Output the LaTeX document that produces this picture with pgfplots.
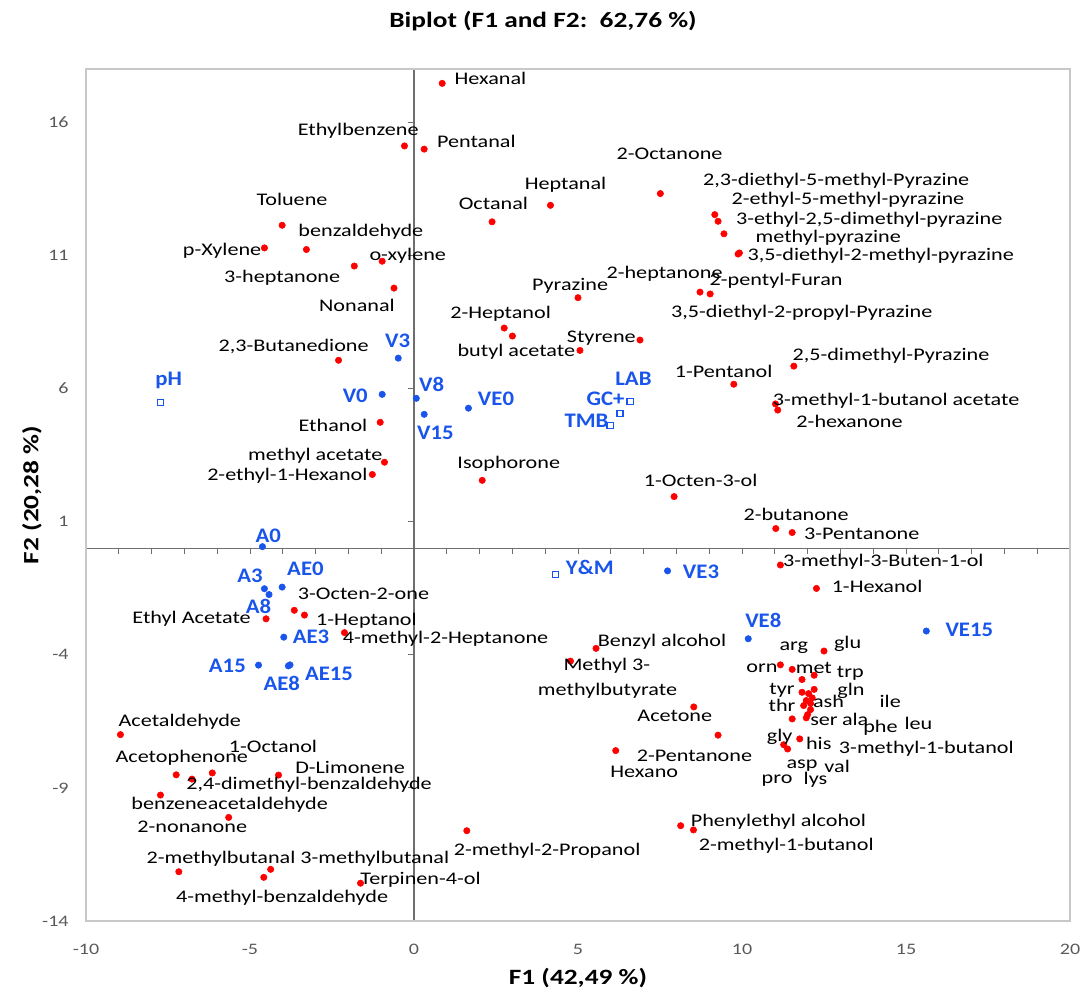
\documentclass[border=0pt]{standalone}
\usepackage{fontspec}
\setmainfont{Carlito}
\newfontfamily\lblfont[FakeStretch=1.25]{Carlito}
\newfontfamily\bluefont[FakeStretch=1.1]{Carlito}
\usepackage{pgfplots}
\usepackage{pgfplotstable}
\pgfplotsset{compat=1.18}
\definecolor{ptred}{RGB}{255,0,0}
\definecolor{ptblue}{RGB}{25,85,235}
\definecolor{ticgray}{RGB}{89,89,89}
\definecolor{framegray}{RGB}{200,200,200}
\definecolor{zerogray}{RGB}{110,110,110}

\pgfplotstableread{
x y
0.86 17.46
-0.29 15.11
0.31 14.99
7.51 13.32
4.16 12.88
2.38 12.26
-4.02 12.13
-4.56 11.28
-3.28 11.22
-1.82 10.60
-0.97 10.78
-0.61 9.77
9.17 12.53
9.27 12.28
9.45 11.81
9.92 11.09
9.88 11.05
5.00 9.41
8.72 9.62
9.03 9.55
2.75 8.27
3.00 7.97
5.06 7.43
6.89 7.82
11.58 6.84
9.75 6.16
11.02 5.42
11.09 5.19
-2.30 7.06
-1.03 4.73
-0.90 3.23
-1.27 2.77
2.08 2.55
7.93 1.94
11.03 0.74
11.53 0.59
11.17 -0.63
12.27 -1.51
-3.65 -2.33
-3.34 -2.51
-4.51 -2.65
-2.12 -3.17
5.55 -3.76
4.77 -4.24
8.53 -5.96
9.27 -7.02
6.15 -7.60
8.13 -10.42
8.52 -10.58
1.61 -10.61
-8.95 -7.00
-7.25 -8.51
-6.77 -8.67
-6.15 -8.44
-4.13 -8.52
-7.73 -9.27
-5.65 -10.11
-7.17 -12.15
-4.37 -12.06
-4.58 -12.36
-1.63 -12.58
12.50 -3.86
11.17 -4.38
11.53 -4.55
11.83 -4.93
12.20 -4.77
11.83 -5.41
12.20 -5.30
12.03 -5.46
12.14 -5.62
11.96 -5.72
12.09 -5.83
11.88 -5.91
12.09 -6.06
12.00 -6.25
11.96 -6.37
11.53 -6.41
11.76 -7.16
11.27 -7.38
11.39 -7.54
}\redpts

\pgfplotstableread{
x y
-0.48 7.14
-0.97 5.78
0.07 5.63
0.31 5.03
1.66 5.26
-4.62 0.06
-4.56 -1.52
-4.42 -1.74
-4.02 -1.46
-3.97 -3.34
-4.74 -4.39
-3.83 -4.42
-3.78 -4.38
7.73 -0.85
10.19 -3.40
15.62 -3.11
}\bluepts

\pgfplotstableread{
x y
-7.73 5.48
6.59 5.51
6.28 5.06
5.98 4.60
4.32 -0.98
}\bluesq

\pgfplotstableread[col sep=semicolon]{
x;y;label
2.33;17.63;Hexanal
-1.70;15.67;Ethylbenzene
1.90;15.29;Pentanal
7.79;14.83;2-Octanone
4.62;13.64;Heptanal
2.42;12.95;Octanal
-3.72;13.11;Toluene
-1.62;11.90;benzaldehyde
-5.85;11.19;p-Xylene
-0.19;10.98;o-xylene
-4.02;10.16;3-heptanone
-1.74;9.12;Nonanal
4.76;9.87;Pyrazine
7.64;10.31;2-heptanone
11.04;10.06;2-pentyl-Furan
12.87;13.79;2,3-diethyl-5-methyl-Pyrazine
13.23;13.10;2-ethyl-5-methyl-pyrazine
13.88;12.34;3-ethyl-2,5-dimethyl-pyrazine
12.63;11.66;methyl-pyrazine
14.23;11.00;3,5-diethyl-2-methyl-pyrazine
11.82;8.84;3,5-diethyl-2-propyl-Pyrazine
14.54;7.24;2,5-dimethyl-Pyrazine
5.71;7.89;Styrene
2.64;8.81;2-Heptanol
3.12;7.39;butyl acetate
9.44;6.64;1-Pentanol
14.70;5.54;3-methyl-1-butanol acetate
13.28;4.75;2-hexanone
-3.67;7.58;2,3-Butanedione
-2.47;4.60;Ethanol
-3.01;3.46;methyl acetate
-3.86;2.74;2-ethyl-1-Hexanol
2.89;3.16;Isophorone
8.74;2.53;1-Octen-3-ol
11.65;1.28;2-butanone
13.65;0.53;3-Pentanone
14.31;-0.52;3-methyl-3-Buten-1-ol
14.12;-1.44;1-Hexanol
-1.54;-1.73;3-Octen-2-one
-1.45;-2.71;1-Heptanol
-6.78;-2.65;Ethyl Acetate
0.96;-3.40;4-methyl-2-Heptanone
-7.14;-6.50;Acetaldehyde
7.56;-3.53;Benzyl alcohol
5.88;-4.40;Methyl 3-
5.90;-5.37;methylbutyrate
7.95;-6.31;Acetone
8.55;-7.79;2-Pentanone
7.02;-8.39;Hexano
11.11;-10.27;Phenylethyl alcohol
11.35;-11.18;2-methyl-1-butanol
4.06;-11.37;2-methyl-2-Propanol
-4.30;-7.44;1-Octanol
-7.08;-7.88;Acetophenone
-1.95;-8.22;D-Limonene
-3.20;-8.90;2,4-dimethyl-benzaldehyde
-5.62;-9.63;benzeneacetaldehyde
-6.76;-10.47;2-nonanone
-3.54;-11.68;2-methylbutanal 3-methylbutanal
0.20;-12.46;Terpinen-4-ol
-4.02;-13.11;4-methyl-benzaldehyde
11.58;-3.74;arg
13.22;-3.58;glu
10.61;-4.49;orn
12.19;-4.49;met
13.30;-4.68;trp
11.22;-5.33;tyr
13.32;-5.37;gln
12.64;-5.75;ash
14.52;-5.75;ile
11.22;-5.91;thr
12.50;-6.50;ser
13.45;-6.44;ala
14.22;-6.75;phe
15.38;-6.59;leu
11.15;-7.09;gly
12.34;-7.34;his
15.62;-7.54;3-methyl-1-butanol
11.83;-8.15;asp
12.90;-8.19;val
11.07;-8.71;pro
12.24;-8.71;lys
}\blacklabels

\pgfplotstableread[col sep=semicolon]{
x;y;label
-7.48;6.32;pH
-0.50;7.80;V3
-1.79;5.73;V0
0.54;6.17;V8
0.65;4.33;V15
2.50;5.63;VE0
6.69;6.36;LAB
5.84;5.61;GC+
5.26;4.79;TMB
-4.44;0.46;A0
-5.00;-1.02;A3
-3.31;-0.79;AE0
-4.74;-2.17;A8
-3.14;-3.34;AE3
-5.69;-4.43;A15
-4.03;-5.08;AE8
-2.59;-4.70;AE15
5.36;-0.73;{Y\&M}
8.75;-0.88;VE3
10.65;-2.71;VE8
16.93;-3.05;VE15
}\bluelabels

\begin{document}
\begin{tikzpicture}
% zero lines with their ticks
\begin{axis}[
  scale only axis, width=738pt, height=639pt,
  xmin=-10, xmax=20, ymin=-14, ymax=18,
  axis lines=middle,
  axis line style={-, zerogray, line width=0.8pt},
  xtick={-10,-9,...,20}, ytick={-14,-9,...,16},
  xticklabels={}, yticklabels={},
  tick align=outside, major tick length=4.5pt,
  tick style={zerogray, line width=0.6pt},
]
\end{axis}
% main axis
\begin{axis}[
  scale only axis, width=738pt, height=639pt,
  xmin=-10, xmax=20, ymin=-14, ymax=18,
  xtick={-10,-5,...,20}, ytick={-14,-9,...,16},
  major tick length=0pt,
  axis line style={framegray, line width=1.1pt},
  /pgf/number format/assume math mode=true,
  tick label style={font=\lblfont\fontsize{12}{14}\selectfont, text=ticgray},
  xticklabel style={yshift=-14pt},
  yticklabel style={xshift=-9.5pt},
  xlabel={F1 (42,49 \%)}, ylabel={F2 (20,28 \%)},
  label style={font=\lblfont\bfseries\fontsize{16.4}{18}\selectfont},
  xlabel style={at={(axis description cs:0.5,-0.067)}, anchor=center},
  ylabel style={at={(axis description cs:-0.055,0.5)}, anchor=center},
  clip=false,
]
\addplot[only marks, mark=*, mark size=2.4pt, draw=ptred, fill=ptred] table[x=x,y=y] {\redpts};
\addplot[only marks, mark=*, mark size=2.4pt, draw=ptblue, fill=ptblue] table[x=x,y=y] {\bluepts};
\addplot[only marks, mark=square, mark size=2.3pt, draw=ptblue, line width=0.9pt] table[x=x,y=y] {\bluesq};
\addplot[only marks, mark=none, nodes near coords, point meta=explicit symbolic,
  every node near coord/.append style={anchor=center, inner sep=0pt, text=black,
  font=\lblfont\fontsize{13.3}{15}\selectfont}] table[x=x,y=y,meta=label] {\blacklabels};
\addplot[only marks, mark=none, nodes near coords, point meta=explicit symbolic,
  every node near coord/.append style={anchor=center, inner sep=0pt, text=ptblue,
  font=\bluefont\bfseries\fontsize{15.5}{17}\selectfont}] table[x=x,y=y,meta=label] {\bluelabels};
\end{axis}
\node[font=\lblfont\bfseries\fontsize{16.4}{18}\selectfont] at (342.75pt,675pt) {Biplot (F1 and F2:\ \ 62,76 \%)};
\pgfresetboundingbox
\useasboundingbox (-64.5pt,-52.5pt) rectangle (747pt,690.75pt);
\end{tikzpicture}
\end{document}
